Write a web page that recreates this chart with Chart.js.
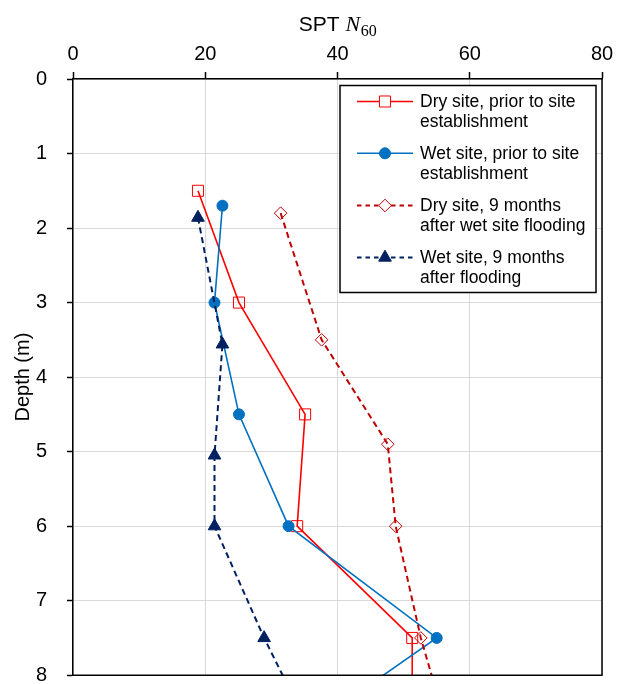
<!DOCTYPE html>
<html>
<head>
<meta charset="utf-8">
<script src="https://cdn.jsdelivr.net/npm/chart.js@4.4.1/dist/chart.umd.min.js"></script>
<style>
html,body{margin:0;padding:0;background:#fff;}
#wrap{width:626px;height:684px;position:relative;}
</style>
</head>
<body>
<div id="wrap"><canvas id="c" width="626" height="684"></canvas></div>
<script>
// ---- data ----
const seriesLabels = [
  ["Dry site, prior to site", "establishment"],
  ["Wet site, prior to site", "establishment"],
  ["Dry site, 9 months", "after wet site flooding"],
  ["Wet site, 9 months", "after flooding"]
];
// depth (m) and SPT N60 for each series (last point lies below the 8 m axis limit, clipped)
const depthDryPrior = [1.5, 3.0, 4.5, 6.0, 7.5, 9.0];
const nDryPrior     = [18.9, 25.1, 35.1, 33.9, 51.3, 51.3];
const depthWetPrior = [1.7, 3.0, 4.5, 6.0, 7.5, 9.0];
const nWetPrior     = [22.6, 21.4, 25.1, 32.6, 55.0, 30.8];
const depthDry9     = [1.8, 3.5, 4.9, 6.0, 7.5, 9.0];
const nDry9         = [31.4, 37.6, 47.6, 48.8, 52.6, 57.5];
const depthWet9     = [1.86, 3.56, 5.05, 6.0, 7.5, 9.0];
const nWet9         = [18.9, 22.6, 21.4, 21.4, 28.9, 37.3];
const xTicks = [0, 20, 40, 60, 80];
const yTicks = [0, 1, 2, 3, 4, 5, 6, 7, 8];

const pts = (xs, ys) => xs.map((x, i) => ({x: x, y: ys[i]}));

const styles = [
  {color:'#FF0000', dash:[], width:1.6, point:'rect', radius:7.8, fill:'rgba(0,0,0,0)'},
  {color:'#0070C0', dash:[], width:1.6, point:'circle', radius:5.5, fill:'#0070C0'},
  {color:'#C00000', dash:[6,4], width:2, point:'rectRot', radius:6.3, fill:'rgba(0,0,0,0)'},
  {color:'#002060', dash:[6,4], width:2, point:'triangle', radius:7.3, fill:'#002060'}
];
const seriesData = [
  pts(nDryPrior, depthDryPrior),
  pts(nWetPrior, depthWetPrior),
  pts(nDry9, depthDry9),
  pts(nWet9, depthWet9)
];

const FONT = '"Liberation Sans", Arial, Helvetica, sans-serif';

function drawMarker(ctx, s, x, y) {
  ctx.save();
  ctx.fillStyle = s.fill === 'rgba(0,0,0,0)' ? '#fff' : s.fill;
  ctx.strokeStyle = s.color;
  ctx.lineWidth = 1;
  ctx.setLineDash([]);
  ctx.beginPath();
  const r = s.radius;
  if (s.point === 'rect') {
    const h = r * Math.SQRT1_2;
    ctx.rect(x - h, y - h, 2*h, 2*h);
  } else if (s.point === 'circle') {
    ctx.arc(x, y, r, 0, Math.PI*2);
  } else if (s.point === 'rectRot') {
    ctx.moveTo(x, y - r); ctx.lineTo(x + r, y); ctx.lineTo(x, y + r); ctx.lineTo(x - r, y); ctx.closePath();
  } else if (s.point === 'triangle') {
    ctx.moveTo(x, y - r);
    ctx.lineTo(x + r*Math.sin(2*Math.PI/3), y - r*Math.cos(2*Math.PI/3));
    ctx.lineTo(x + r*Math.sin(4*Math.PI/3), y - r*Math.cos(4*Math.PI/3));
    ctx.closePath();
  }
  ctx.fill();
  ctx.stroke();
  ctx.restore();
}

const decor = {
  id: 'decor',
  afterDraw(chart) {
    const ctx = chart.ctx;
    const a = chart.chartArea;
    ctx.save();
    // plot-area border (right and bottom)
    ctx.strokeStyle = '#000';
    ctx.lineWidth = 1.5;
    ctx.beginPath();
    ctx.moveTo(a.right, a.top); ctx.lineTo(a.right, a.bottom); ctx.lineTo(a.left, a.bottom);
    ctx.stroke();

    // x axis title: SPT N60
    const cx = (a.left + a.right) / 2;
    ctx.fillStyle = '#000';
    ctx.textBaseline = 'alphabetic';
    ctx.textAlign = 'left';
    ctx.font = '21px ' + FONT;
    const t1 = 'SPT ';
    const w1 = ctx.measureText(t1).width;
    ctx.font = 'italic 22px "Liberation Serif", "Times New Roman", serif';
    const w2 = ctx.measureText('N').width;
    ctx.font = '16px "Liberation Serif", "Times New Roman", serif';
    const w3 = ctx.measureText('60').width;
    let sx = cx - (w1 + w2 + w3) / 2;
    ctx.font = '21px ' + FONT;
    ctx.fillText(t1, sx, 31);
    ctx.font = 'italic 22px "Liberation Serif", "Times New Roman", serif';
    ctx.fillText('N', sx + w1, 31);
    ctx.font = '16px "Liberation Serif", "Times New Roman", serif';
    ctx.fillText('60', sx + w1 + w2 + 0.5, 35.5);

    // legend box
    const L = 340, T = 85.5, R = 596, B = 292.5;
    ctx.fillStyle = '#fff';
    ctx.fillRect(L, T, R - L, B - T);
    ctx.strokeStyle = '#000';
    ctx.lineWidth = 1.5;
    ctx.strokeRect(L, T, R - L, B - T);
    const rowY = [101.5, 153.3, 205.5, 257.5];
    ctx.font = '17.5px ' + FONT;
    ctx.textBaseline = 'middle';
    seriesLabels.forEach((lines, i) => {
      const s = styles[i];
      const y = rowY[i];
      ctx.save();
      ctx.strokeStyle = s.color;
      ctx.lineWidth = s.width;
      ctx.setLineDash(s.dash.length ? [4.5, 4] : []);
      ctx.beginPath();
      ctx.moveTo(357, y); ctx.lineTo(413, y);
      ctx.stroke();
      ctx.restore();
      drawMarker(ctx, s, 385, y);
      ctx.fillStyle = '#000';
      lines.forEach((ln, k) => ctx.fillText(ln, 420, y + 0.5 + k * 20));
    });
    ctx.restore();
  }
};

new Chart(document.getElementById('c'), {
  type: 'scatter',
  data: {
    datasets: seriesData.map((d, i) => ({
      label: seriesLabels[i].join(' '),
      data: d,
      showLine: true,
      borderColor: styles[i].color,
      borderWidth: styles[i].width,
      borderDash: styles[i].dash,
      backgroundColor: styles[i].fill,
      pointStyle: styles[i].point,
      pointRadius: styles[i].radius,
      pointHoverRadius: styles[i].radius,
      pointBackgroundColor: styles[i].fill,
      pointBorderColor: styles[i].color,
      pointBorderWidth: 1,
      tension: 0,
      order: 4 - i
    }))
  },
  options: {
    responsive: false,
    animation: false,
    devicePixelRatio: 1,
    layout: {padding: {top: 0, left: 0, right: 24, bottom: 8}},
    plugins: {legend: {display: false}, tooltip: {enabled: false}},
    scales: {
      x: {
        type: 'linear',
        position: 'top',
        min: 0, max: 80,
        afterBuildTicks: (sc) => { sc.ticks = xTicks.map(v => ({value: v})); },
        afterFit: (sc) => { sc.height = 79; sc.paddingLeft = 0; sc.paddingRight = 0; },
        ticks: {font: {size: 20, family: FONT}, color: '#000', padding: 6, maxRotation: 0},
        grid: {color: '#d9d9d9', lineWidth: 1, tickLength: 7, tickColor: '#000', tickWidth: 1.5},
        border: {display: true, color: '#000', width: 1.5}
      },
      y: {
        type: 'linear',
        reverse: true,
        min: 0, max: 8,
        afterBuildTicks: (sc) => { sc.ticks = yTicks.map(v => ({value: v})); },
        afterFit: (sc) => { sc.width = 73; sc.paddingTop = 0; sc.paddingBottom = 0; },
        ticks: {font: {size: 20, family: FONT}, color: '#000', padding: 20},
        grid: {color: '#d9d9d9', lineWidth: 1, tickLength: 6, tickColor: '#000', tickWidth: 1.5},
        border: {display: true, color: '#000', width: 1.5},
        title: {display: true, text: 'Depth (m)', font: {size: 20, family: FONT}, color: '#000', padding: {top: 11, bottom: 0}}
      }
    }
  },
  plugins: [decor]
});
</script>
</body>
</html>
